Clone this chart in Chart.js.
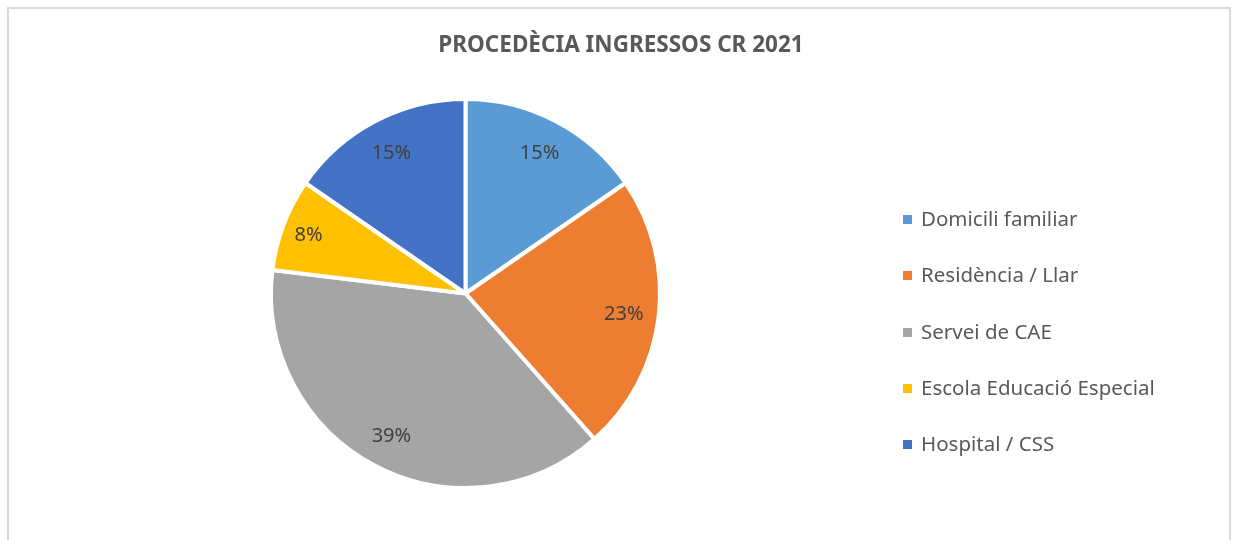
<!DOCTYPE html>
<html lang="ca">
<head>
<meta charset="UTF-8">
<title>Procedència ingressos</title>
<script src="https://cdn.jsdelivr.net/npm/chart.js@4.4.0/dist/chart.umd.min.js"></script>
<style>
  html, body { margin: 0; padding: 0; background: #fff; font-family: 'Noto Sans', 'Open Sans', sans-serif; }
  #frame {
    position: absolute; left: 7px; top: 7px;
    width: 1224px; height: 560px;
    border: 2px solid #d9d9d9; box-sizing: border-box;
  }
  #wrap { position: absolute; left: 0; top: 0; width: 1236px; height: 540px; }
  #title {
    position: absolute; left: 0; top: 30px; width: 1242px; height: 28px;
    line-height: 28px; text-align: center;
    font-size: 22.5px; font-weight: bold; color: #595959;
  }
  #legend { position: absolute; left: 903px; top: 190px; }
  #legend .item {
    height: 56.25px; line-height: 56.25px; white-space: nowrap;
    font-size: 20.5px; color: #595959;
  }
  #legend .box {
    display: inline-block; width: 9px; height: 9px; margin-right: 9px;
    vertical-align: middle; position: relative; top: -1px;
  }
</style>
</head>
<body>
<div id="frame"></div>
<div id="wrap"><canvas id="chart"></canvas></div>
<div id="title"></div>
<div id="legend"></div>
<script>
// dades (percentatges, l'etiqueta es mostra arrodonida)
var categories = ["Domicili familiar", "Residència / Llar", "Servei de CAE", "Escola Educació Especial", "Hospital / CSS"];
var percents = [15.4, 23.1, 38.5, 7.7, 15.4];
var colors = ["#5B9BD5", "#ED7D31", "#A5A5A5", "#FFC000", "#4472C4"];
var titleText = "PROCEDÈCIA INGRESSOS CR 2021";

var FONT = "'Noto Sans', 'Open Sans', sans-serif";

document.getElementById("title").textContent = titleText;

// llegenda
var legendBox = document.getElementById("legend");
categories.forEach(function (name, i) {
    var row = document.createElement("div");
    row.className = "item";
    var sw = document.createElement("span");
    sw.className = "box";
    sw.style.background = colors[i];
    row.appendChild(sw);
    row.appendChild(document.createTextNode(name));
    legendBox.appendChild(row);
});

// etiquetes de dades dins de cada porció
var pieLabels = {
    id: "pieLabels",
    afterDatasetsDraw(chart) {
        var ctx = chart.ctx;
        var meta = chart.getDatasetMeta(0);
        ctx.save();
        ctx.font = "20px " + FONT;
        ctx.fillStyle = "#404040";
        ctx.textAlign = "center";
        ctx.textBaseline = "alphabetic";
        meta.data.forEach(function (arc, i) {
            var p = arc.getProps(["x", "y", "startAngle", "endAngle", "outerRadius"], true);
            var mid = (p.startAngle + p.endAngle) / 2;
            var f = percents[i] < 10 ? 0.863 : 0.82;
            var x = p.x + Math.cos(mid) * p.outerRadius * f;
            var y = p.y + Math.sin(mid) * p.outerRadius * f;
            ctx.fillText(Math.round(percents[i]) + "%", x, y + 7);
        });
        ctx.restore();
    }
};

new Chart(document.getElementById("chart"), {
    type: "pie",
    data: {
        labels: categories,
        datasets: [{
            data: percents,
            backgroundColor: colors,
            borderColor: "#ffffff",
            borderWidth: 4
        }]
    },
    options: {
        responsive: true,
        maintainAspectRatio: false,
        animation: false,
        layout: { padding: { left: 40, right: 345, top: 97, bottom: 50 } },
        plugins: {
            legend: { display: false },
            tooltip: { enabled: false }
        }
    },
    plugins: [pieLabels]
});
</script>
</body>
</html>
